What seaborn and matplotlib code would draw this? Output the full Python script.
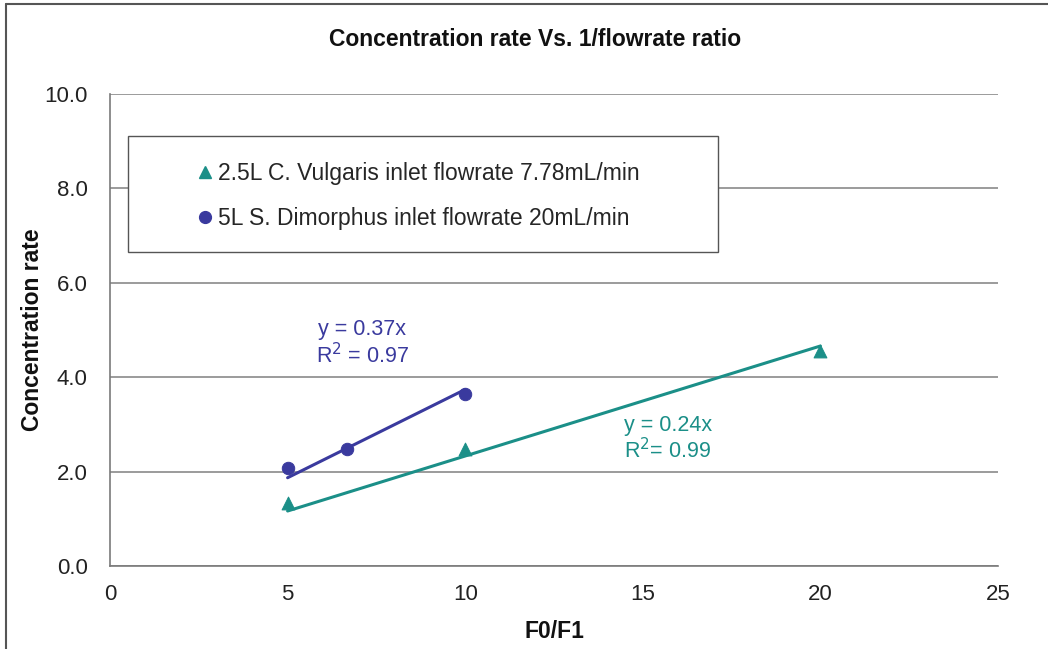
import numpy as np
import pandas as pd
import matplotlib
matplotlib.use("Agg")
import matplotlib.pyplot as plt
import seaborn as sns
from matplotlib.lines import Line2D
from matplotlib.patches import Rectangle

# Data
cv_x = [5, 10, 20]
cv_y = [1.33, 2.47, 4.55]
sd_x = [5, 6.67, 10]
sd_y = [2.07, 2.48, 3.65]
cv_label = "2.5L C. Vulgaris inlet flowrate 7.78mL/min"
sd_label = "5L S. Dimorphus inlet flowrate 20mL/min"
cv_eq = ["y = 0.24x", "R$^2$= 0.99"]
sd_eq = ["y = 0.37x", "R$^2$ = 0.97"]

teal = "#1b8f88"
blue = "#3a3a9e"

sns.set_theme(style="white")
plt.rcParams['font.family'] = ['Liberation Sans', 'DejaVu Sans']

fig = plt.figure(figsize=(10.48, 6.49), dpi=100)
ax = fig.add_axes([110/1048, 83/649, 888/1048, 472/649])

def fit_line(x, y):
    x = np.array(x, float); y = np.array(y, float)
    k = (x * y).sum() / (x * x).sum()
    return pd.DataFrame({"x": [x.min(), x.max()], "y": [k * x.min(), k * x.max()]})

cv_fit = fit_line(cv_x, cv_y)
sd_fit = fit_line(sd_x, sd_y)

sns.lineplot(data=cv_fit, x="x", y="y", color=teal, lw=2.2, ax=ax, zorder=2)
sns.lineplot(data=sd_fit, x="x", y="y", color=blue, lw=2.2, ax=ax, zorder=2)

sns.scatterplot(x=cv_x, y=cv_y, marker="^", s=85, color=teal, edgecolor=teal, ax=ax, zorder=3)
sns.scatterplot(x=sd_x, y=sd_y, marker="o", s=80, color=blue, edgecolor=blue, ax=ax, zorder=3)

ax.set_xlim(0, 25)
ax.set_ylim(0, 10)
ax.set_xticks([0, 5, 10, 15, 20, 25])
ax.set_yticks([0, 2, 4, 6, 8, 10])
ax.set_yticklabels([f"{v:.1f}" for v in [0, 2, 4, 6, 8, 10]])
ax.tick_params(axis="both", labelsize=16, colors="#222222", length=0)
ax.tick_params(axis="y", pad=16)
ax.tick_params(axis="x", pad=13)
for t in ax.get_xticklabels() + ax.get_yticklabels():
    t.set_color("#222222")

ax.grid(axis="y", color="#8a8a8a", lw=1.2)
ax.grid(axis="x", visible=False)
ax.set_axisbelow(True)
for s in ["top", "right"]:
    ax.spines[s].set_visible(False)
for s in ["left", "bottom"]:
    ax.spines[s].set_color("#7a7a7a")
    ax.spines[s].set_linewidth(1.2)

ax.set_xlabel("F0/F1", fontsize=16.5, fontweight="bold", labelpad=11, color="#111111")
ax.set_ylabel("Concentration rate", fontsize=16.5, fontweight="bold", labelpad=0, color="#111111")
fig.text(535/1048, 1 - 40/649, "Concentration rate Vs. 1/flowrate ratio",
         ha="center", va="center", fontsize=16.5, fontweight="bold", color="#111111")

ax.text(7.1, 5.0, sd_eq[0], color=blue, fontsize=15.5, ha="center", va="center")
ax.text(7.1, 4.45, sd_eq[1], color=blue, fontsize=15.5, ha="center", va="center")
ax.text(15.7, 2.97, cv_eq[0], color=teal, fontsize=15.5, ha="center", va="center")
ax.text(15.7, 2.44, cv_eq[1], color=teal, fontsize=15.5, ha="center", va="center")

# legend box
box = Rectangle((18/888, (566-252)/472), 590/888, 116/472, transform=ax.transAxes,
                facecolor="white", edgecolor="#555555", lw=1.0, zorder=4)
ax.add_patch(box)

handles = [Line2D([], [], marker="^", color=teal, ls="none", markersize=8),
           Line2D([], [], marker="o", color=blue, ls="none", markersize=8.5)]
leg = ax.legend(handles, [cv_label, sd_label], loc="upper left",
                bbox_to_anchor=((196-110)/888, (566-162)/472),
                fontsize=16.5, frameon=False,
                borderpad=0, labelspacing=0.95, handletextpad=0.15,
                handlelength=0.8, borderaxespad=0)
leg.set_zorder(5)

# figure border (left and top)
fig.add_artist(Line2D([6/1048, 6/1048], [0, 1 - 4/649], color="#555555", lw=1.5, transform=fig.transFigure))
fig.add_artist(Line2D([6/1048, 1], [1 - 4/649, 1 - 4/649], color="#555555", lw=1.5, transform=fig.transFigure))

fig.savefig("out.png", dpi=100)
